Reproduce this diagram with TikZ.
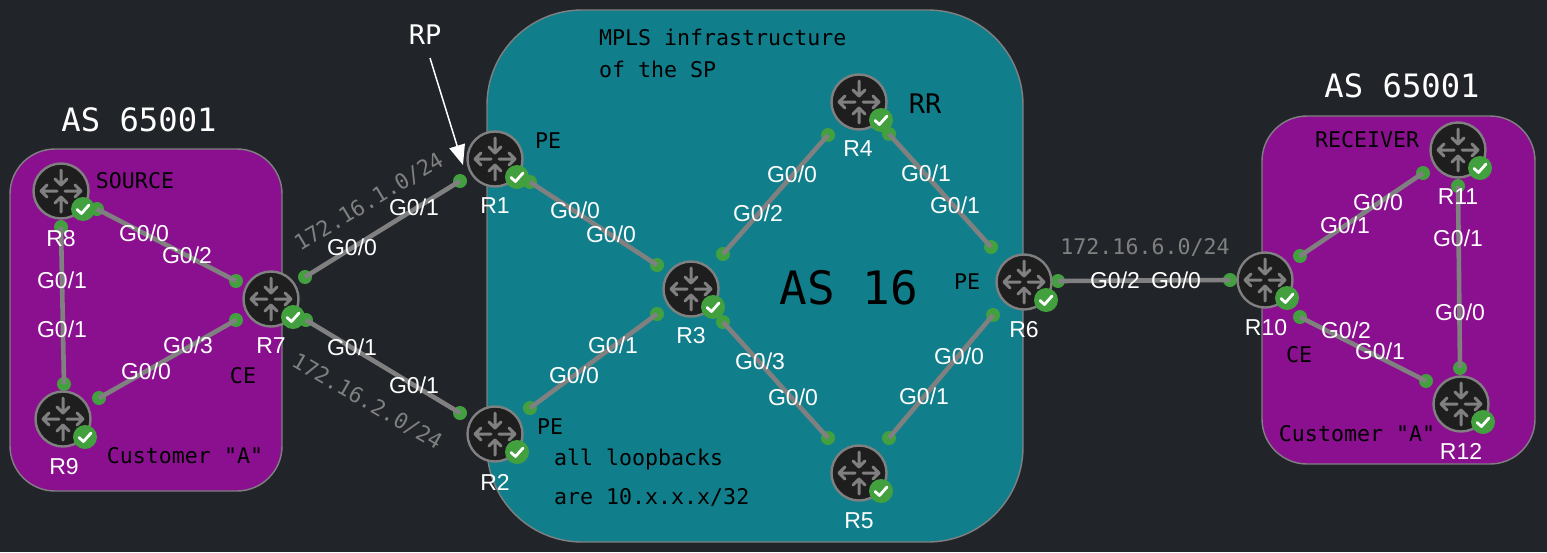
\documentclass[tikz,border=0pt]{standalone}
\usepackage{fontspec}
\setmainfont{Liberation Sans}
\setmonofont{DejaVu Sans Mono}
\usetikzlibrary{arrows.meta}
\definecolor{bgc}{HTML}{212429}
\definecolor{teal1}{HTML}{117F8B}
\definecolor{purp}{HTML}{8B1090}
\definecolor{gry}{HTML}{808080}
\definecolor{grn}{HTML}{43A03F}
\definecolor{rout}{HTML}{1E1E1E}
\tikzset{
  x=1pt,y=-1pt,
  region/.style={draw=gry,line width=1.4pt,rounded corners=#1},
  portdot/.style={circle,fill=grn,minimum size=14pt,inner sep=0pt},
  link/.style={draw=gry,line width=4.6pt},
  routerbody/.style={circle,draw=gry,fill=rout,line width=2.4pt,minimum size=55pt,inner sep=0pt},
  badge/.style={circle,fill=grn,minimum size=24pt,inner sep=0pt},
  iflabel/.style={text=white,font=\fontsize{23}{23}\selectfont,inner sep=0pt},
  rlabel/.style={text=white,font=\fontsize{23}{23}\selectfont,inner sep=0pt},
  iplabel/.style={text=gry,font=\ttfamily\fontsize{21.6}{22}\selectfont,inner sep=0pt},
  blacktext/.style={text=black,font=\ttfamily\fontsize{21.6}{22}\selectfont,inner sep=0pt},
  astext/.style={text=white,font=\ttfamily\fontsize{32.2}{33}\selectfont,inner sep=0pt},
  routericon/.pic={
    \draw[gry,line width=3pt,line cap=round,line join=round]
      (0,-21)--(0,-6) (-6,-12)--(0,-6)--(6,-12)
      (0,21)--(0,6) (-6,12)--(0,6)--(6,12)
      (-4,0)--(-20,0) (-14,-6)--(-20,0)--(-14,6)
      (4,0)--(20,0) (14,-6)--(20,0)--(14,6);
  },
}
\newcommand{\portlink}[5]{%
  \node[portdot] (#1a) at (#2,#3) {};
  \node[portdot] (#1c) at (#4,#5) {};
  \draw[link] (#1a.center) -- (#1c.center);
}
\newcommand{\rtr}[6]{\node[routerbody] (#1) at (#2,#3) {};
  \pic at (#1.center) {routericon};
  \node[badge] (#1b) at (#2+22,#3+18) {};
  \draw[white,line width=2.8pt,line cap=round,line join=round]
    ([shift={(-6,0.5)}]#1b.center)--([shift={(-1.5,4.5)}]#1b.center)--([shift={(6,-4)}]#1b.center);
  \node[rlabel] (#1l) at (#5,#6) {#4};}
\begin{document}
\begin{tikzpicture}
\useasboundingbox (0,0) rectangle (1547,552);
\fill[bgc] (0,0) rectangle (1547,552);
% regions
\path[region=45pt,fill=purp] (10,149) rectangle (282,491);
\path[region=95pt,fill=teal1] (487,10) rectangle (1023,542);
\path[region=45pt,fill=purp] (1262,116) rectangle (1535,464);
% links
\portlink{la}{97}{209}{236}{281}
\portlink{lb}{61}{227}{64}{384}
\portlink{lc}{99}{398}{236}{320}
\portlink{ld}{305}{277}{460}{181}
\portlink{le}{306}{320}{460}{413}
\portlink{lf}{530}{182}{657}{265}
\portlink{lg}{530}{408}{657}{314}
\portlink{lh}{723}{254}{828}{135}
\portlink{li}{723}{322}{828}{438}
\portlink{lj}{889}{134}{991}{247}
\portlink{lk}{889}{438}{993}{315}
\portlink{ll}{1058}{281}{1230}{280}
\portlink{lm}{1300}{256}{1423}{173}
\portlink{ln}{1300}{317}{1426}{381}
\portlink{lo}{1458}{186}{1460}{368}
% routers
\rtr{r8}{61}{191}{R8}{61}{239}
\rtr{r7}{271}{299}{R7}{271}{346}
\rtr{r9}{63}{419}{R9}{64}{467}
\rtr{r1}{495}{159}{R1}{495}{206}
\rtr{r2}{495}{434}{R2}{495}{482}
\rtr{r3}{691}{289}{R3}{691}{336}
\rtr{r4}{859}{102}{R4}{858}{149}
\rtr{r5}{859}{473}{R5}{859}{521}
\rtr{r6}{1024}{282}{R6}{1024}{330}
\rtr{r10}{1265}{280}{R10}{1266}{328}
\rtr{r11}{1458}{150}{R11}{1458}{197}
\rtr{r12}{1461}{404}{R12}{1461}{451}
% network labels (under the interface labels)
\node[iplabel,rotate=31] (ip1) at (369,202) {172.16.1.0/24};
\node[iplabel,rotate=-30] (ip2) at (367,402) {172.16.2.0/24};
\node[iplabel] (ip6) at (1145,247) {172.16.6.0/24};
% interface labels
\foreach \n/\px/\py/\t in {
 a1/144/233/G0\slash0, a2/187/255/G0\slash2,
 b1/62/280/G0\slash1, b2/62/329/G0\slash1,
 c1/146/371/G0\slash0, c2/188/345/G0\slash3,
 d1/352/247/G0\slash0, d2/414/207/G0\slash1,
 e1/352/347/G0\slash1, e2/414/385/G0\slash1,
 f1/575/210/G0\slash0, f2/611/234/G0\slash0,
 g1/574/375/G0\slash0, g2/613/345/G0\slash1,
 h1/758/213/G0\slash2, h2/792/174/G0\slash0,
 i1/760/361/G0\slash3, i2/793/397/G0\slash0,
 j1/926/173/G0\slash1, j2/955/205/G0\slash1,
 k1/924/396/G0\slash1, k2/959/356/G0\slash0,
 l1/1115/280/G0\slash2, l2/1176/280/G0\slash0,
 m1/1345/225/G0\slash1, m2/1378/202/G0\slash0,
 n1/1346/330/G0\slash2, n2/1380/351/G0\slash1,
 o1/1458/238/G0\slash1, o2/1460/312/G0\slash0}
 {\node[iflabel] (if\n) at (\px,\py) {\t};}
% text
\node[blacktext] (tsrc) at (135,181) {SOURCE};
\node[blacktext] (tce1) at (243,376) {CE};
\node[blacktext] (tcua) at (185,456) {Customer "A"};
\node[blacktext] (tpe1) at (548,141) {PE};
\node[blacktext] (tpe2) at (550,427) {PE};
\node[blacktext] (tpe6) at (967,282) {PE};
\node[blacktext,font=\ttfamily\fontsize{27}{27}\selectfont] (trr) at (925,104) {RR};
\node[blacktext,anchor=west] (tm1) at (599,37) {MPLS infrastructure};
\node[blacktext,anchor=west] (tm2) at (599,69) {of the SP};
\node[blacktext,anchor=west] (tl1) at (554,459) {all loopbacks};
\node[blacktext,anchor=west] (tl2) at (554,497) {are 10.x.x.x/32};
\node[blacktext,font=\ttfamily\fontsize{46}{46}\selectfont] (tas16) at (849,288) {AS 16};
\node[blacktext] (trcv) at (1367,140) {RECEIVER};
\node[blacktext] (tce2) at (1299,355) {CE};
\node[blacktext] (tcub) at (1357,434) {Customer "A"};
\node[astext] (tasl) at (139,120) {AS 65001};
\node[astext] (tasr) at (1402,86) {AS 65001};
\node[text=white,font=\ttfamily\fontsize{27}{27}\selectfont,inner sep=0pt] (trp) at (425,35) {RP};
\coordinate (rpa) at (430,58);
\coordinate (rpb) at (463,165);
\draw[white,line width=1.5pt,-{Triangle[length=20pt,width=16pt]}] (rpa) -- (rpb);
\end{tikzpicture}
\end{document}
